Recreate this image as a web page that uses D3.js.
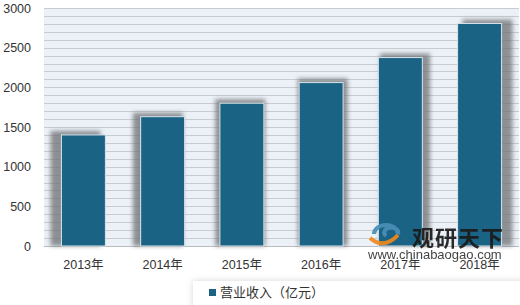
<!DOCTYPE html>
<html>
<head>
<meta charset="utf-8">
<script src="https://cdn.jsdelivr.net/npm/d3@7"></script>
<style>
  body { margin: 0; background: #fff; }
  text { font-family: "Liberation Sans", "Noto Sans CJK SC", sans-serif; }
</style>
</head>
<body>
<svg></svg>
<script>
let years = ["2013年","2014年","2015年","2016年","2017年","2018年"];
let revenue = [1400,1630,1800,2060,2375,2805];
let yTicks = [0,500,1000,1500,2000,2500,3000];
let seriesName = "营业收入（亿元）";

var svgWidth = 520, svgHeight = 305;
var plotLeft = 44, plotRight = 519, plotTop = 8, plotBottom = 246;

var svg = d3.select('svg')
            .attr("width",svgWidth)
            .attr("height",svgHeight);

var defs = svg.append("defs");
defs.append("filter").attr("id","blur")
    .attr("x","-30%").attr("y","-30%").attr("width","160%").attr("height","160%")
    .append("feGaussianBlur").attr("stdDeviation",2);
defs.append("filter").attr("id","blur2")
    .attr("x","-10%").attr("y","-50%").attr("width","120%").attr("height","200%")
    .append("feGaussianBlur").attr("stdDeviation",3);

var x = d3.scaleBand().domain(years).range([plotLeft,plotRight]).paddingInner(0.445).paddingOuter(0.22);
var y = d3.scaleLinear().domain([0,3000]).range([plotBottom,plotTop]);

// plot background
svg.append("rect")
   .attr("x",plotLeft).attr("y",plotTop)
   .attr("width",plotRight-plotLeft).attr("height",plotBottom-plotTop)
   .attr("fill","#ebf1f7");

// grid every 100
svg.append("g")
   .selectAll("line")
   .data(d3.range(100,3001,100))
   .enter()
   .append("line")
   .attr("x1",plotLeft).attr("x2",plotRight)
   .attr("y1",d => Math.round(y(d))+0.5)
   .attr("y2",d => Math.round(y(d))+0.5)
   .attr("stroke","#c8ccd0")
   .attr("stroke-width",1);

// baseline
svg.append("line")
   .attr("x1",plotLeft).attr("x2",plotRight)
   .attr("y1",plotBottom+0.5).attr("y2",plotBottom+0.5)
   .attr("stroke","#b8bcc0");

var mid = (plotLeft+plotRight)/2;

// shadows
svg.append("g")
   .selectAll("rect")
   .data(revenue)
   .enter()
   .append("rect")
   .attr("x",(d,i) => {
       let cx = x(years[i]) + x.bandwidth()/2;
       return x(years[i]) - 3 + (cx-mid)*0.04;
   })
   .attr("y",d => y(d) - 4)
   .attr("width",x.bandwidth()+6)
   .attr("height",d => plotBottom - y(d) + 4)
   .attr("fill","#6d6f72")
   .attr("opacity",0.75)
   .attr("filter","url(#blur)");

// bars
svg.append("g")
   .selectAll("rect")
   .data(revenue)
   .enter()
   .append("rect")
   .attr("x",(d,i) => x(years[i]))
   .attr("y",d => y(d))
   .attr("width",x.bandwidth())
   .attr("height",d => plotBottom - y(d))
   .attr("fill","#1b6384")
   .attr("stroke","#d8e4ec")
   .attr("stroke-width",1);

// y axis labels
svg.append("g")
   .selectAll("text")
   .data(yTicks)
   .enter()
   .append("text")
   .attr("x",31)
   .attr("y",d => y(d) + 4.5)
   .attr("text-anchor","end")
   .attr("font-size",12.5)
   .attr("fill","#333")
   .text(d => d);

// x labels
svg.append("g")
   .selectAll("text")
   .data(years)
   .enter()
   .append("text")
   .attr("x",d => x(d) + x.bandwidth()/2)
   .attr("y",269)
   .attr("text-anchor","middle")
   .attr("font-size",12.5)
   .attr("fill","#333")
   .text(d => d);

// watermark
var wm = svg.append("g").attr("opacity",0.92);
wm.append("path")
  .attr("d","M374,234 a12,9 0 1,1 24,0 a7,5 0 1,0 -12,2")
  .attr("fill","none").attr("stroke","#4a8fb8").attr("stroke-width",4);
wm.append("path")
  .attr("d","M370,238 q14,12 28,-3")
  .attr("fill","none").attr("stroke","#f08a1c").attr("stroke-width",4);
wm.append("text")
  .attr("x",412).attr("y",246)
  .attr("font-size",22).attr("font-weight","bold")
  .attr("font-family","'Noto Sans CJK SC'")
  .attr("fill","#1a1a1a")
  .attr("letter-spacing",1)
  .text("观研天下");
wm.append("text")
  .attr("x",368).attr("y",259)
  .attr("font-size",13)
  .attr("fill","#333")
  .text("www.chinabaogao.com");

// legend box
svg.append("rect")
   .attr("x",193).attr("y",281)
   .attr("width",340).attr("height",30)
   .attr("fill","#888").attr("opacity",0.35)
   .attr("filter","url(#blur2)");
svg.append("rect")
   .attr("x",193).attr("y",281)
   .attr("width",340).attr("height",30)
   .attr("fill","#fff");
svg.append("rect")
   .attr("x",209).attr("y",289)
   .attr("width",7).attr("height",7)
   .attr("fill","#1b6384");
svg.append("text")
   .attr("x",220).attr("y",297)
   .attr("font-size",13)
   .attr("font-family","'Noto Sans CJK SC'")
   .attr("fill","#333")
   .text(seriesName);
</script>
</body>
</html>
